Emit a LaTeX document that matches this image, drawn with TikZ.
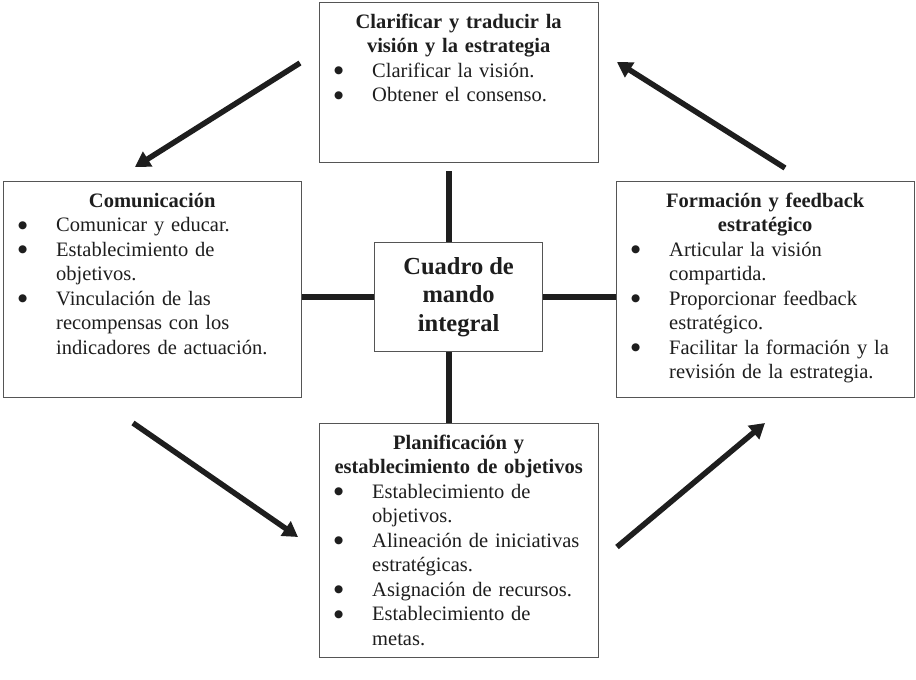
\documentclass[tikz,border=0pt]{standalone}
\usepackage{fontspec}
\setmainfont{Liberation Serif}
\newfontfamily\dotfont{DejaVu Sans}
\usetikzlibrary{arrows.meta}
\definecolor{boxline}{HTML}{555555}
\definecolor{ink}{HTML}{1E1E1E}
\newcommand\bigdot{\raisebox{3.5pt}{\dotfont\fontsize{10.5}{0}\selectfont ●}}
\newcommand\bit[1]{\par\noindent\hspace*{15pt}\makebox[38pt][l]{\bigdot}#1}
\newcommand\cnt[1]{\par\noindent\hspace*{53pt}#1}
\newcommand\hdr[1]{{\centering\bfseries\leavevmode\strut#1\par}}
\tikzset{
  box/.style={draw=boxline, line width=1.3pt, fill=white, inner sep=0pt, anchor=north west},
  txt/.style={inner sep=0pt, anchor=north west, text=ink,
    font=\fontsize{20.5}{24.5}\selectfont},
  link/.style={draw=ink, line width=5.5pt},
  flow/.style={draw=ink, line width=5.5pt, -{Triangle[length=15pt,width=17pt]}}
}
\begin{document}
\begin{tikzpicture}[x=1pt,y=-1pt]
\useasboundingbox[fill=white] (0,0) rectangle (916,680);

% boxes
\node[box, minimum width=279pt, minimum height=160pt] (top) at (319,2) {};
\node[box, minimum width=298pt, minimum height=216pt] (left) at (3,181) {};
\node[box, minimum width=298pt, minimum height=216pt] (right) at (616,181) {};
\node[box, minimum width=279pt, minimum height=234pt] (bot) at (319,423) {};
\node[box, minimum width=168pt, minimum height=109pt, align=center, text=ink,
  font=\fontsize{24.5}{28.5}\selectfont\bfseries] (cmi) at (374,242) {Cuadro de\\mando\\integral};

% texts
\node[txt, text width=279pt, yshift=-9pt] (ttop) at (top.north west) {%
  \hdr{Clarificar y traducir la\\visión y la estrategia}%
  \bit{Clarificar la visión.}%
  \bit{Obtener el consenso.}};
\node[txt, text width=298pt, yshift=-9pt] (tleft) at (left.north west) {%
  \hdr{Comunicación}%
  \bit{Comunicar y educar.}%
  \bit{Establecimiento de}%
  \cnt{objetivos.}%
  \bit{Vinculación de las}%
  \cnt{recompensas con los}%
  \cnt{indicadores de actuación.}};
\node[txt, text width=298pt, yshift=-9pt] (tright) at (right.north west) {%
  \hdr{Formación y feedback\\estratégico}%
  \bit{Articular la visión}%
  \cnt{compartida.}%
  \bit{Proporcionar feedback}%
  \cnt{estratégico.}%
  \bit{\makebox[229pt][s]{Facilitar la formación y la}}%
  \cnt{revisión de la estrategia.}};
\node[txt, text width=279pt, yshift=-9pt] (tbot) at (bot.north west) {%
  \hdr{Planificación y\\establecimiento de objetivos}%
  \bit{Establecimiento de}%
  \cnt{objetivos.}%
  \bit{Alineación de iniciativas}%
  \cnt{estratégicas.}%
  \bit{Asignación de recursos.}%
  \bit{Establecimiento de}%
  \cnt{metas.}};

% links to the centre
\coordinate (ctop) at (449,171);
\draw[link] (ctop) -- (ctop |- cmi.north);
\draw[link] (ctop |- cmi.south) -- (ctop |- bot.north);
\draw[link] (left.east |- cmi.west) -- (cmi.west);
\draw[link] (cmi.east) -- (right.west |- cmi.east);

% cycle arrows
\coordinate (a1s) at (300,63);  \coordinate (a1e) at (135,167);
\coordinate (a2s) at (785,168); \coordinate (a2e) at (617,62);
\coordinate (a3s) at (133,423); \coordinate (a3e) at (298,537);
\coordinate (a4s) at (617,547); \coordinate (a4e) at (765,423);
\draw[flow] (a1s) -- (a1e);
\draw[flow] (a2s) -- (a2e);
\draw[flow] (a3s) -- (a3e);
\draw[flow] (a4s) -- (a4e);
\end{tikzpicture}
\end{document}
